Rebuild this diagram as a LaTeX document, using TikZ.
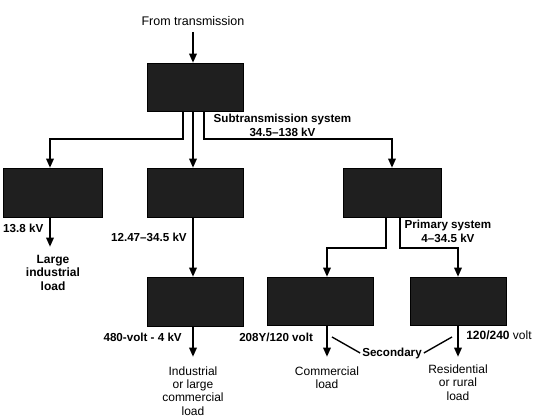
\documentclass[tikz,border=0pt]{standalone}
\usepackage{fontspec}
\setmainfont{Liberation Sans}
\usetikzlibrary{arrows.meta}

\tikzset{
  unit/.style={draw=black, fill=black!88, inner sep=0pt, outer sep=0pt},
  feeder/.style={line width=2.3pt, -{Triangle[length=7.5pt,width=5.8pt]}},
  pointer/.style={line width=1.1pt},
  volts/.style={font=\bfseries\fontsize{9.3}{10.8}\selectfont, align=center, inner sep=0pt},
  loadtext/.style={font=\fontsize{9.6}{10.6}\selectfont, align=center, inner sep=0pt},
}

\begin{document}
\begin{tikzpicture}[x=0.8pt, y=-0.8pt]
    \useasboundingbox (0,0) rectangle (534,417);

    % Substations and transformers
    \node[unit, minimum width=76.8pt, minimum height=38.4pt] (top) at (195,87) {};
    \node[unit, minimum width=79.2pt, minimum height=39.2pt] (ind) at (52.5,192.5) {};
    \node[unit, minimum width=76.8pt, minimum height=39.2pt] (dist) at (195,192.5) {};
    \node[unit, minimum width=78.4pt, minimum height=39.2pt] (prim) at (392,192.5) {};
    \node[unit, minimum width=76.8pt, minimum height=39.2pt] (sub) at (195,301.5) {};
    \node[unit, minimum width=84.8pt, minimum height=38.4pt] (comm) at (320,301) {};
    \node[unit, minimum width=76.8pt, minimum height=38.4pt] (res) at (458,301) {};

    % Bends and free ends
    \coordinate (feed) at (193,32);
    \coordinate (bl) at (183,139);
    \coordinate (bl2) at (50,139);
    \coordinate (br) at (204,139);
    \coordinate (br2) at (392,139);
    \coordinate (pl) at (386,248);
    \coordinate (pl2) at (327,248);
    \coordinate (pr) at (400,248);
    \coordinate (pr2) at (458,248);
    \coordinate (indload) at (50,247);
    \coordinate (subload) at (193,357);
    \coordinate (commload) at (327,357);
    \coordinate (resload) at (458,357);

    % Feeders
    \draw[feeder] (feed) -- (top.north -| feed);
    \draw[feeder] (top.south -| bl) -- (bl) -- (bl2) -- (ind.north -| bl2);
    \draw[feeder] (top.south -| feed) -- (dist.north -| feed);
    \draw[feeder] (top.south -| br) -- (br) -- (br2) -- (prim.north -| br2);
    \draw[feeder] (ind.south -| indload) -- (indload);
    \draw[feeder] (dist.south -| feed) -- (sub.north -| feed);
    \draw[feeder] (sub.south -| subload) -- (subload);
    \draw[feeder] (prim.south -| pl) -- (pl) -- (pl2) -- (comm.north -| pl2);
    \draw[feeder] (prim.south -| pr) -- (pr) -- (pr2) -- (res.north -| pr2);
    \draw[feeder] (comm.south -| commload) -- (commload);
    \draw[feeder] (res.south -| resload) -- (resload);

    % Labels
    \node[loadtext, font=\fontsize{10}{12}\selectfont] (fromtx) at (193,21) {From transmission};
    \node[volts] (subtx) at (282.5,125.5) {Subtransmission system\\34.5--138 kV};
    \node[volts, anchor=west] (v138) at (3,228) {13.8 kV};
    \node[volts, font=\bfseries\fontsize{9.6}{10.8}\selectfont] (indtext) at (53,272.5) {Large\\industrial\\load};
    \node[volts, anchor=east] (v345) at (187,237) {12.47--34.5 kV};
    \node[volts, anchor=east] (v480) at (182,337) {480-volt - 4 kV};
    \node[loadtext] (subtext) at (193,391) {Industrial\\or large\\commercial\\load};
    \node[volts] (primtx) at (448,231.5) {Primary system\\4--34.5 kV};
    \node[volts, anchor=west] (v208) at (239,337) {208Y/120 volt};
    \node[loadtext, anchor=west] (v240) at (466,335) {{\bfseries 120/240} volt};
    \node[volts, inner sep=1.5pt] (sec) at (392,353) {Secondary};
    \node[loadtext] (commtext) at (327,377.5) {Commercial\\load};
    \node[loadtext] (restext) at (458,382.5) {Residential\\or rural\\load};

    % Secondary pointers
    \coordinate (secl) at (332,337);
    \coordinate (secr) at (452,337);
    \draw[pointer] (secl) -- (sec.west);
    \draw[pointer] (sec.east) -- (secr);
\end{tikzpicture}
\end{document}
